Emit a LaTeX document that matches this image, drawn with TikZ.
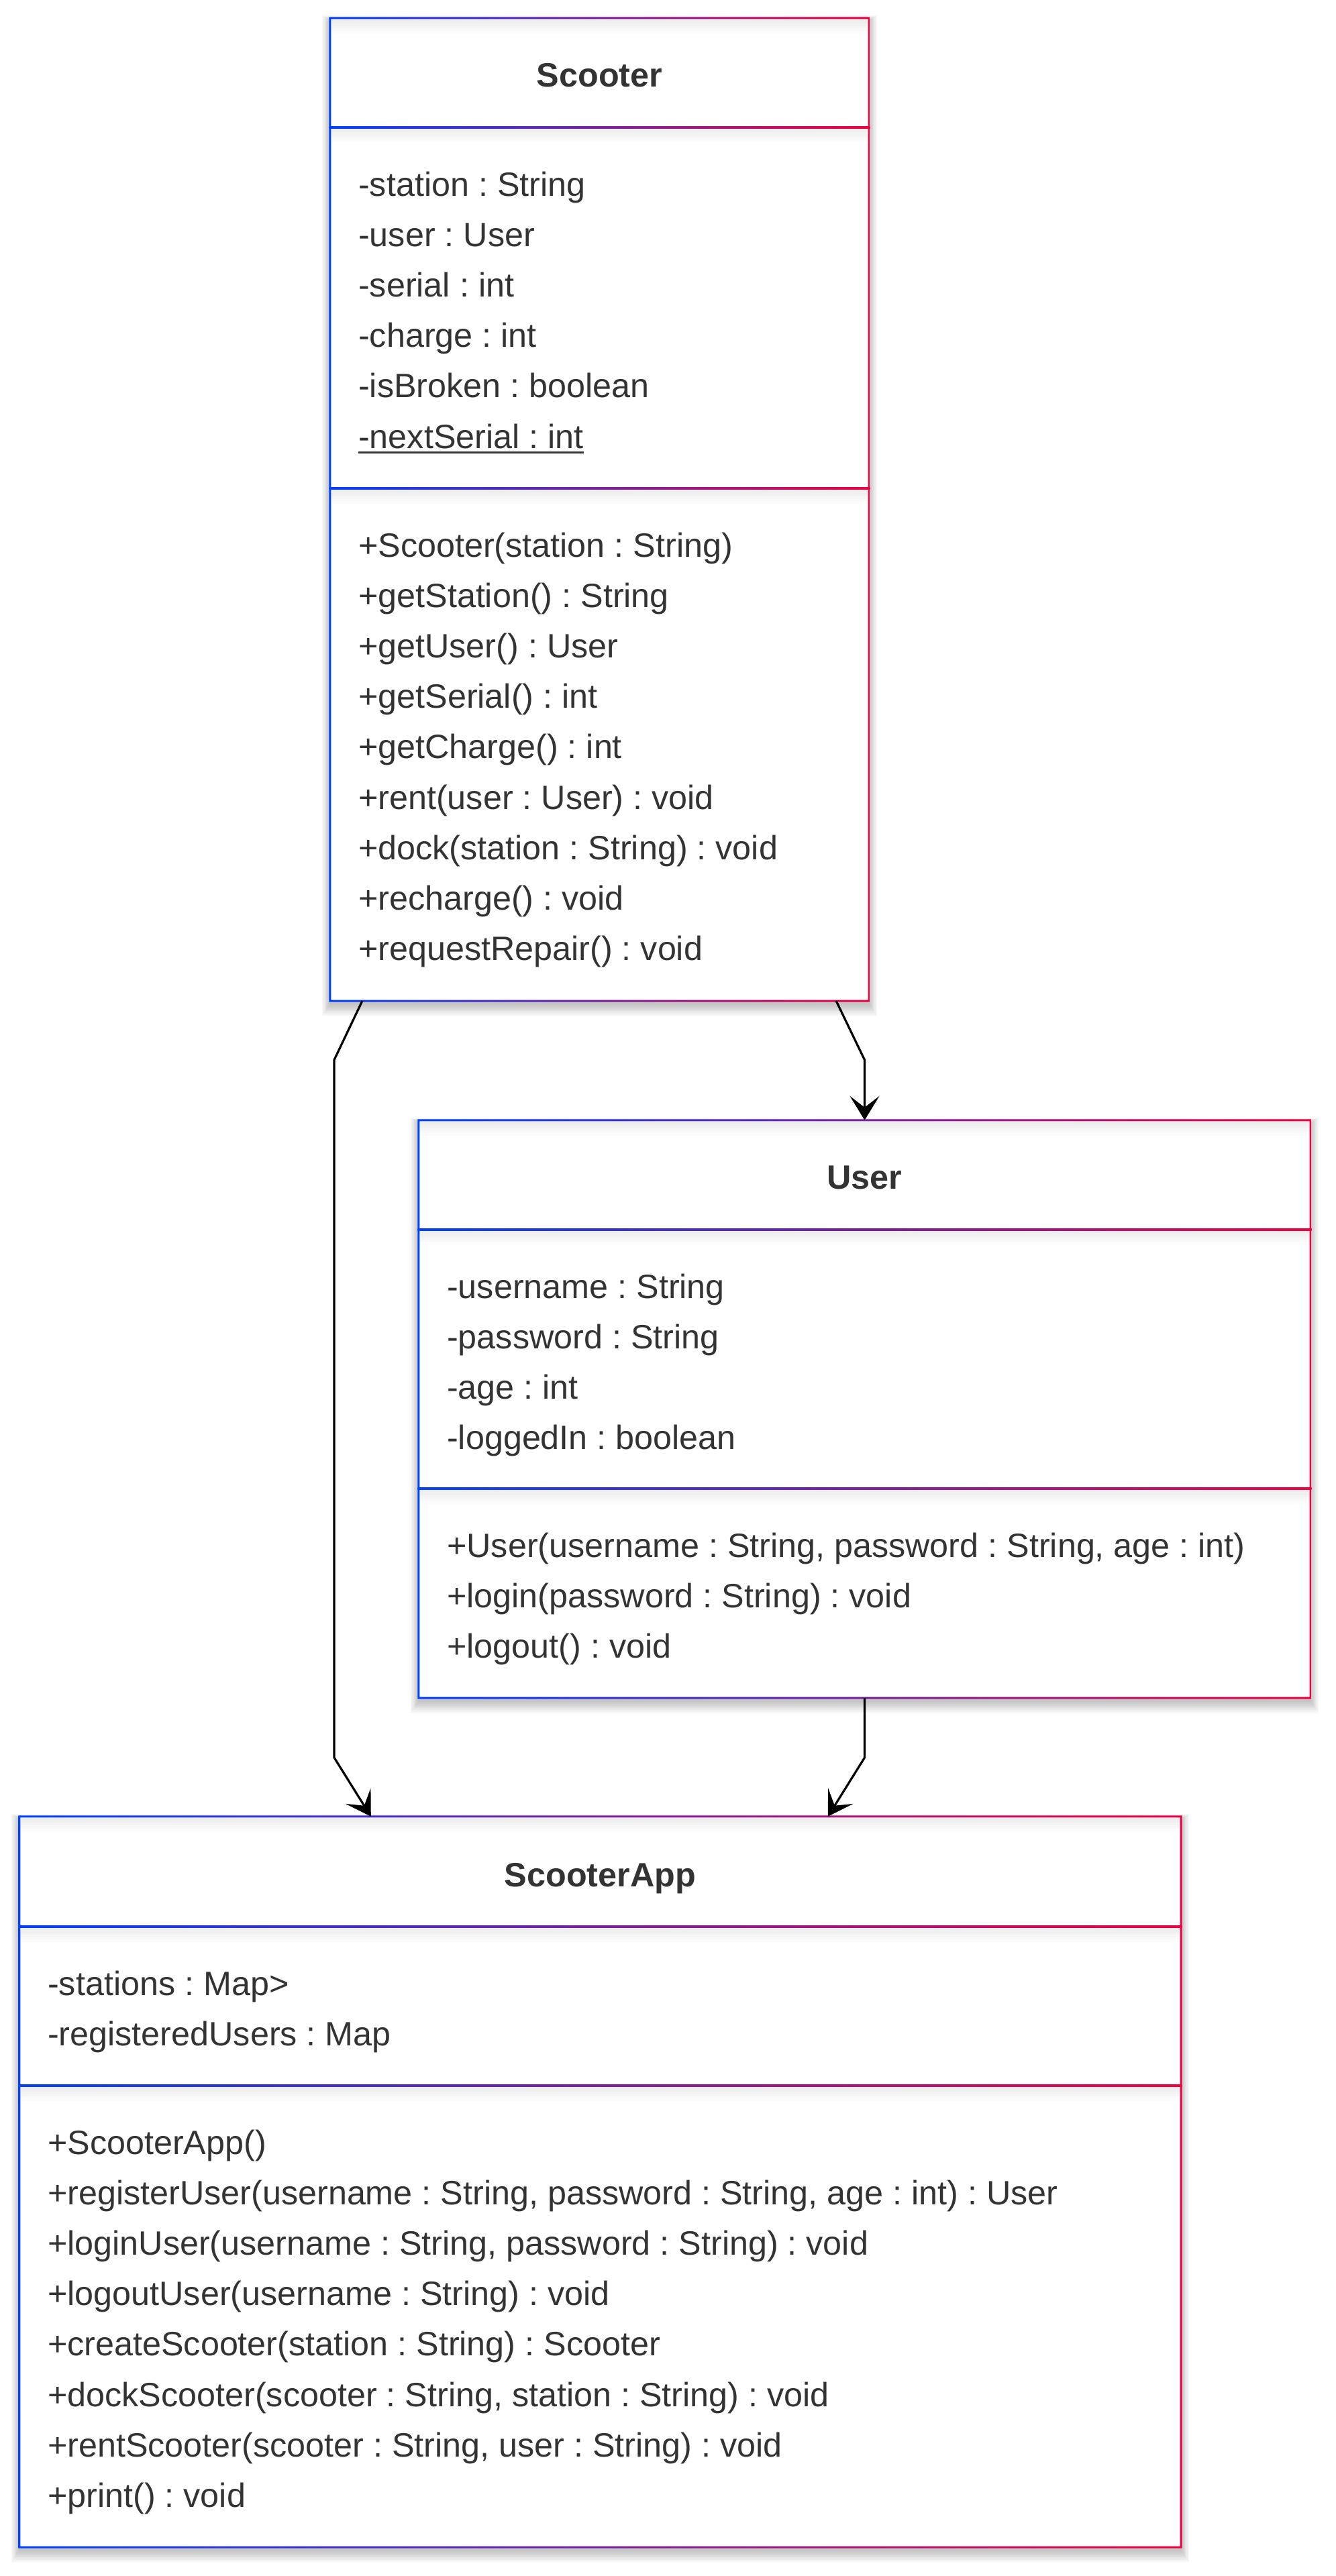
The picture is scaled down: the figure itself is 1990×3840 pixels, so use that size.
\documentclass[tikz,border=0pt]{standalone}
\usepackage{fontspec}
\setmainfont{Liberation Sans}
\usetikzlibrary{arrows.meta}

\definecolor{gblue}{RGB}{0,64,255}
\definecolor{gred}{RGB}{240,0,64}
\definecolor{txt}{RGB}{51,51,51}

% underlined (static) member
\newcommand\staticmember[1]{\setbox0\hbox{#1}\rlap{\rule[-8pt]{\wd0}{3pt}}\box0}

\tikzset{
  member/.style={anchor=base west, inner sep=0pt, text=txt,
    font=\fontsize{50.3}{60}\selectfont},
  classtitle/.style={anchor=base, inner sep=0pt, text=txt,
    font=\fontsize{50.3}{60}\selectfont\bfseries},
  classbody/.style={fill=white, inner sep=0pt, draw=none},
  frame/.style={left color=gblue, right color=gred, even odd rule},
  conn/.style={draw=black, line width=3.2pt, line join=round,
    -{Stealth[length=36pt, width=44pt, inset=17pt]}},
}

% class box: name, x1, y1, x2, y2, divider 1, divider 2
\newcommand\umlbox[7]{%
  \foreach \k in {1,...,10}{%
    \fill[black, opacity=0.022] (#2-\k*1.2, #3+4-\k*0.8) rectangle (#4+\k*1.2, #5+4+\k*1.9);
  }
  \node[classbody, minimum width={(#4-#2)*1pt}, minimum height={(#5-#3)*1pt}]
    (#1) at ({(#2+#4)/2}, {(#3+#5)/2}) {};
  % soft shading under each compartment edge
  \foreach \d in {#3, #6, #7}{%
    \foreach \k in {1,...,6}{%
      \fill[black, opacity=0.010] (#2+1.5, \d+1.5) rectangle (#4-1.5, \d+1.5+\k*3.5);
    }
  }
  \shade[frame] ([shift={(-1.5,-1.5)}]#1.north west) rectangle ([shift={(1.5,1.5)}]#1.south east)
                ([shift={(1.5,1.5)}]#1.north west) rectangle ([shift={(-1.5,-1.5)}]#1.south east);
  \shade[left color=gblue, right color=gred] (#2-1.5, #6-1.5) rectangle (#4+1.5, #6+1.5);
  \shade[left color=gblue, right color=gred] (#2-1.5, #7-1.5) rectangle (#4+1.5, #7+1.5);
}

% member list: prefix, x, first baseline, entries
\newcommand\members[4]{%
  \foreach \t [count=\i] in {#4}{%
    \node[member] (#1\i) at (#2, {#3+75.2*(\i-1)}) {\frenchspacing\t};
  }
}

\frenchspacing
\begin{document}
\begin{tikzpicture}[x=1pt, y=-1pt]
\path[use as bounding box, fill=white] (0,0) rectangle (1990,3840);

% ---- Scooter ----
\umlbox{scooter}{492}{27}{1295}{1492}{190}{728}
\node[classtitle] (scooter-title) at (893.5,130) {Scooter};
\members{scooter-a}{534}{292}{-station : String, -user : User, -serial : int, -charge : int,
  -isBroken : boolean, {\staticmember{-nextSerial : int}}}
\members{scooter-m}{534}{830}{+Scooter(station : String), +getStation() : String,
  +getUser() : User, +getSerial() : int, +getCharge() : int, +rent(user : User) : void,
  +dock(station : String) : void, +recharge() : void, +requestRepair() : void}

% ---- User ----
\umlbox{user}{624}{1670}{1953}{2531}{1833}{2219}
\node[classtitle] (user-title) at (1288.5,1772) {User};
\members{user-a}{666}{1935}{-username : String, -password : String, -age : int,
  -loggedIn : boolean}
\members{user-m}{666}{2321}{{+User(username : String, password : String, age : int)},
  +login(password : String) : void, +logout() : void}

% ---- ScooterApp ----
\umlbox{app}{29}{2708}{1760}{3797}{2872}{3109}
\node[classtitle] (app-title) at (894.5,2812) {ScooterApp};
\members{app-a}{71}{2974}{-stations : Map>, -registeredUsers : Map}
\members{app-m}{71}{3211}{+ScooterApp(),
  {+registerUser(username : String, password : String, age : int) : User},
  {+loginUser(username : String, password : String) : void},
  +logoutUser(username : String) : void,
  +createScooter(station : String) : Scooter,
  {+dockScooter(scooter : String, station : String) : void},
  {+rentScooter(scooter : String, user : String) : void},
  +print() : void}

% ---- connectors ----
\coordinate (c1) at (498,1580);
\coordinate (c2) at (498,2620);
\coordinate (c3) at (1288.5,1580);
\coordinate (c4) at (1288.5,2620);
\draw[conn] ([xshift=48pt]scooter.south west) -- (c1) -- (c2) -- ([xshift=524pt]app.north west);
\draw[conn] ([xshift=-49pt]scooter.south east) -- (c3) -- (user.north);
\draw[conn] (user.south) -- (c4) -- ([xshift=1205pt]app.north west);
\end{tikzpicture}
\end{document}
